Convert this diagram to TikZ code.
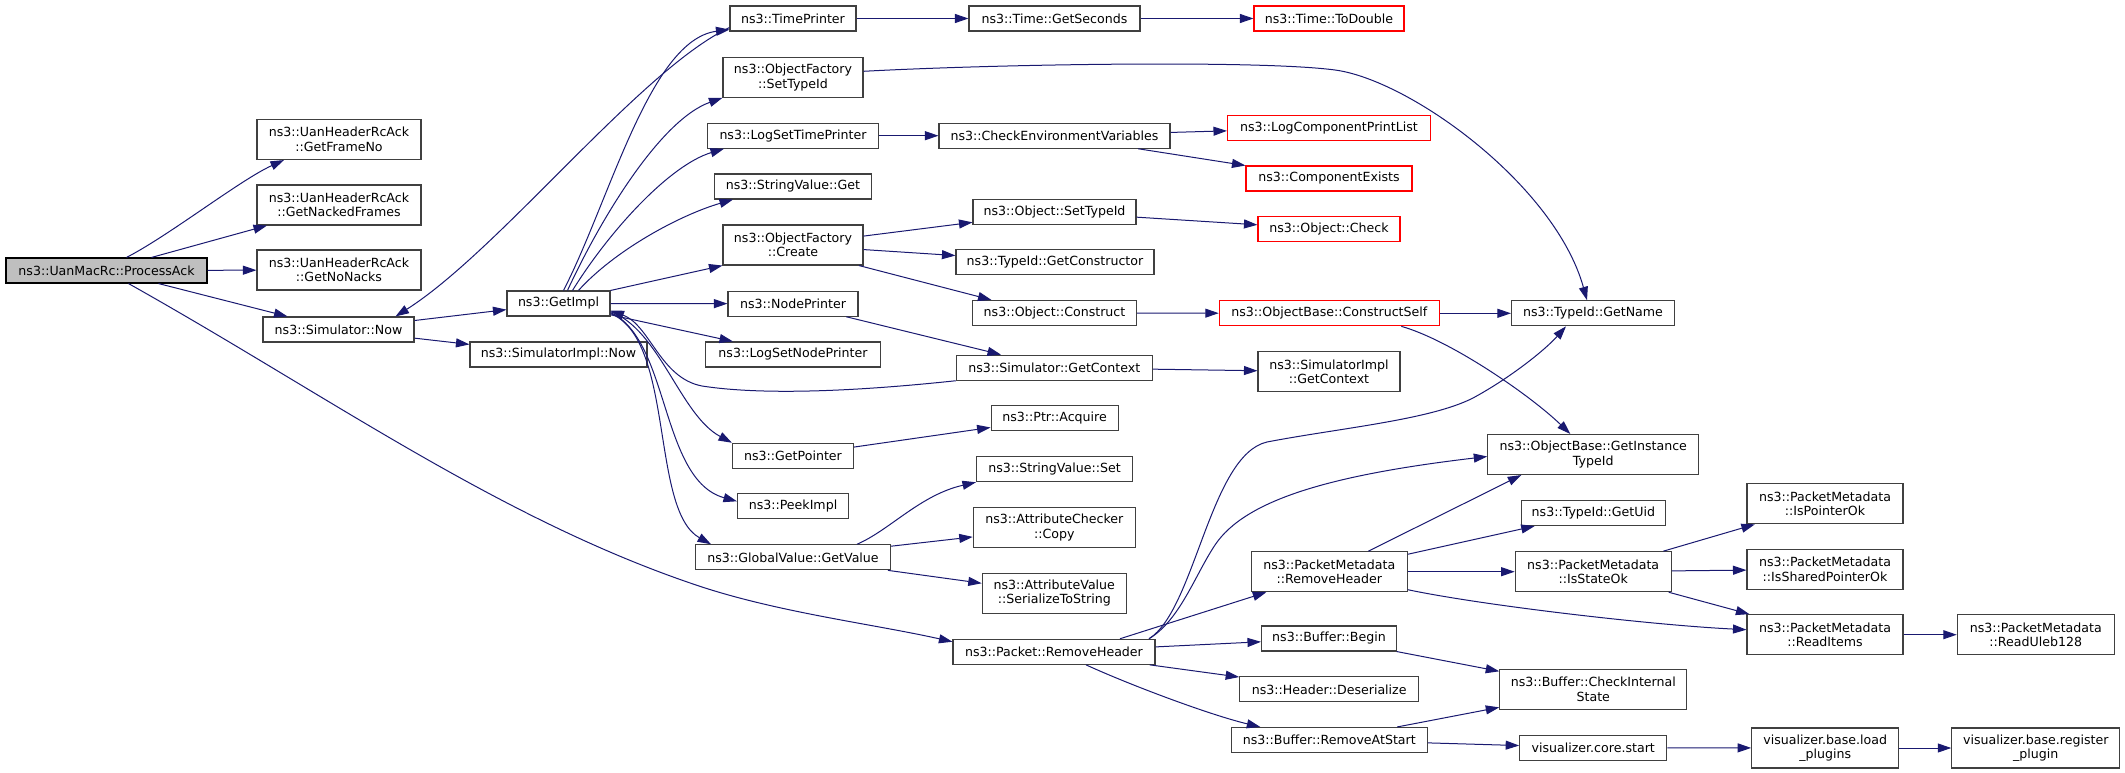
\documentclass[tikz,border=0pt]{standalone}
\usepackage{fontspec}
\setmainfont[Ligatures=NoCommon]{DejaVu Sans}
\usetikzlibrary{arrows.meta}
\definecolor{edgecol}{HTML}{191970}
\definecolor{nodeborder}{HTML}{404040}
\definecolor{redborder}{HTML}{FF0000}
\definecolor{grayfill}{HTML}{BFBFBF}
\begin{document}
\begin{tikzpicture}[x=1pt,y=-1pt,
  box/.style={draw=nodeborder, line width=1.1pt, inner sep=0pt, minimum height=25pt, align=center,
    font=\fontsize{12.6}{14.5}\selectfont},
  boxx/.style={box, minimum height=40pt},
  redb/.style={draw=redborder},
  edg/.style={draw=edgecol, line width=1pt, -{Triangle[length=13.5pt,width=9pt]}}]
\useasboundingbox (0,0) rectangle (2125,773);
% column 1
\node[box, minimum width=201, fill=grayfill, draw=black] (pa) at (106.5,270.5) {ns3::UanMacRc::ProcessAck};
% column 2
\node[boxx, minimum width=164] (gfn) at (339,139.5) {ns3::UanHeaderRcAck\\::GetFrameNo};
\node[boxx, minimum width=164] (gnf) at (339,205) {ns3::UanHeaderRcAck\\::GetNackedFrames};
\node[boxx, minimum width=164] (gnn) at (339,270) {ns3::UanHeaderRcAck\\::GetNoNacks};
\node[box, minimum width=151] (snow) at (338.5,329.5) {ns3::Simulator::Now};
% column 3
\node[box, minimum width=103] (gimpl) at (558.5,303.5) {ns3::GetImpl};
\node[box, minimum width=177] (simplnow) at (558.5,354.5) {ns3::SimulatorImpl::Now};
% column 4
\node[box, minimum width=126] (tp) at (793,18.5) {ns3::TimePrinter};
\node[boxx, minimum width=140] (ofsti) at (793,77.3) {ns3::ObjectFactory\\::SetTypeId};
\node[box, minimum width=171] (lstp) at (793,135.7) {ns3::LogSetTimePrinter};
\node[box, minimum width=157] (svget) at (793,186.5) {ns3::StringValue::Get};
\node[boxx, minimum width=140] (ofc) at (793,245) {ns3::ObjectFactory\\::Create};
\node[box, minimum width=130] (np) at (793,303.7) {ns3::NodePrinter};
\node[box, minimum width=175] (lsnp) at (793,354.5) {ns3::LogSetNodePrinter};
\node[box, minimum width=121] (gp) at (793,455.8) {ns3::GetPointer};
\node[box, minimum width=111] (pi) at (793,506.3) {ns3::PeekImpl};
\node[box, minimum width=195] (ggv) at (793,557.3) {ns3::GlobalValue::GetValue};
% column 5
\node[box, minimum width=171] (tgs) at (1054.5,18.5) {ns3::Time::GetSeconds};
\node[box, minimum width=231] (cev) at (1054.5,135.7) {ns3::CheckEnvironmentVariables};
\node[box, minimum width=163] (ostid) at (1054.5,212) {ns3::Object::SetTypeId};
\node[box, minimum width=198] (tgc) at (1055,262) {ns3::TypeId::GetConstructor};
\node[box, minimum width=164] (oc) at (1054.5,313) {ns3::Object::Construct};
\node[box, minimum width=196] (sgc) at (1054.3,367.7) {ns3::Simulator::GetContext};
\node[box, minimum width=127] (pacq) at (1054.6,418.3) {ns3::Ptr::Acquire};
\node[box, minimum width=156] (svset) at (1054.5,469.2) {ns3::StringValue::Set};
\node[boxx, minimum width=162] (acc) at (1054.3,527.7) {ns3::AttributeChecker\\::Copy};
\node[boxx, minimum width=144] (avs) at (1054.3,593.2) {ns3::AttributeValue\\::SerializeToString};
\node[box, minimum width=202] (prh) at (1054,651.8) {ns3::Packet::RemoveHeader};
% column 6
\node[box, redb, minimum width=150] (ttd) at (1329,18.5) {ns3::Time::ToDouble};
\node[box, redb, minimum width=203] (lcpl) at (1329,128) {ns3::LogComponentPrintList};
\node[box, redb, minimum width=166] (ce) at (1329,178.5) {ns3::ComponentExists};
\node[box, redb, minimum width=142] (och) at (1329,229.3) {ns3::Object::Check};
\node[box, redb, minimum width=220] (ocs) at (1329.3,313.3) {ns3::ObjectBase::ConstructSelf};
\node[boxx, minimum width=142] (sigc) at (1329,371.8) {ns3::SimulatorImpl\\::GetContext};
\node[boxx, minimum width=156] (pmrh) at (1329.3,571.7) {ns3::PacketMetadata\\::RemoveHeader};
\node[box, minimum width=135] (bb) at (1329,638.5) {ns3::Buffer::Begin};
\node[box, minimum width=179] (hd) at (1329.2,689.3) {ns3::Header::Deserialize};
\node[box, minimum width=196] (bras) at (1329.3,740) {ns3::Buffer::RemoveAtStart};
% column 7
\node[box, minimum width=163] (tgn) at (1593,313.3) {ns3::TypeId::GetName};
\node[boxx, minimum width=211] (ogit) at (1593.3,454.5) {ns3::ObjectBase::GetInstance\\TypeId};
\node[box, minimum width=144] (tgu) at (1593.4,513) {ns3::TypeId::GetUid};
\node[boxx, minimum width=156] (iso) at (1593.2,571.7) {ns3::PacketMetadata\\::IsStateOk};
\node[boxx, minimum width=187] (cis) at (1593.3,689.3) {ns3::Buffer::CheckInternal\\State};
\node[box, minimum width=147] (vcs) at (1593.2,747.7) {visualizer.core.start};
% column 8
\node[boxx, minimum width=156] (ipo) at (1825,503.8) {ns3::PacketMetadata\\::IsPointerOk};
\node[boxx, minimum width=156] (ispo) at (1825,569.3) {ns3::PacketMetadata\\::IsSharedPointerOk};
\node[boxx, minimum width=156] (ri) at (1825,634.7) {ns3::PacketMetadata\\::ReadItems};
\node[boxx, minimum width=147] (vlp) at (1825.2,748) {visualizer.base.load\\\_plugins};
% column 9
\node[boxx, minimum width=157] (ru) at (2035.8,634.7) {ns3::PacketMetadata\\::ReadUleb128};
\node[boxx, minimum width=168] (vrp) at (2035.8,748) {visualizer.base.register\\\_plugin};

% edges
\draw[edg] ([xshift=20]pa.north) .. controls (170,235) and (240,180) .. ([xshift=-55]gfn.south);
\draw[edg] ([xshift=45]pa.north) -- ([xshift=-72]gnf.south);
\draw[edg] (pa) -- (gnn);
\draw[edg] ([xshift=52]pa.south) -- ([xshift=-51]snow.north);
\draw[edg] ([xshift=22]pa.south) .. controls (329,396) and (502,521) .. (702,587) .. controls (782,613) and (873,624) .. ([yshift=-3]prh.north west);
\draw[edg] (snow) -- (gimpl);
\draw[edg] (snow) -- (simplnow);
\draw[edg] ([yshift=4]tp.south west) .. controls (640,70) and (500,250) .. ([xshift=57]snow.north);
\draw[edg] ([xshift=5]gimpl.north) .. controls (610,200) and (650,40) .. ([yshift=2]tp.south west);
\draw[edg] ([xshift=9]gimpl.north) .. controls (600,220) and (660,120) .. (ofsti.south west);
\draw[edg] ([xshift=14]gimpl.north) .. controls (610,230) and (670,165) .. ([xshift=-69]lstp.south);
\draw[edg] ([xshift=20]gimpl.north) .. controls (615,250) and (680,215) .. ([xshift=-60]svget.south);
\draw[edg] (gimpl.north east) -- (ofc.south west);
\draw[edg] (gimpl) -- (np);
\draw[edg] (gimpl) -- (lsnp);
\draw[edg] ([yshift=-8]gimpl.east) .. controls (660,330) and (680,415) .. (gp.north west);
\draw[edg] ([yshift=-9]gimpl.east) .. controls (670,340) and (660,480) .. ([yshift=5]pi.west);
\draw[edg] ([yshift=-10]gimpl.east) .. controls (675,340) and (650,510) .. ([xshift=-82]ggv.north);
\draw[edg] (sgc.south west) .. controls (850,392) and (760,395) .. (702,386) .. controls (660,378) and (650,325) .. ([yshift=-7]gimpl.east);
\draw[edg] (np) -- (sgc);
\draw[edg] (ofc) -- (ostid);
\draw[edg] (ofc) -- (tgc);
\draw[edg] ([xshift=66]ofc.south) -- ([xshift=-63]oc.north);
\draw[edg] (ostid) -- (och);
\draw[edg] (oc) -- (ocs);
\draw[edg] (ocs) -- (tgn);
\draw[edg] ([xshift=72]ocs.south) .. controls (1450,340) and (1530,395) .. ([xshift=-23]ogit.north);
\draw[edg] (sgc) -- (sigc);
\draw[edg] (gp) -- (pacq);
\draw[edg] ([xshift=64]ggv.north) .. controls (890,530) and (920,495) .. (svset.south west);
\draw[edg] (ggv) -- (acc);
\draw[edg] (ggv) -- (avs);
\draw[edg] ([xshift=95]prh.north) .. controls (1195,610) and (1210,455) .. (1267,442) .. controls (1340,428) and (1430,420) .. (1473,398) .. controls (1510,378) and (1545,350) .. ([xshift=-27]tgn.south);
\draw[edg] ([xshift=95]prh.north) .. controls (1180,620) and (1195,575) .. (1215,545) .. controls (1245,500) and (1330,475) .. ([yshift=-2]ogit.west);
\draw[edg] ([xshift=66]prh.north) -- ([xshift=-63]pmrh.south);
\draw[edg] (prh) -- (bb);
\draw[edg] (prh) -- (hd);
\draw[edg] ([xshift=32]prh.south) .. controls (1130,685) and (1210,715) .. ([xshift=-69]bras.north);
\draw[edg] ([xshift=39]pmrh.north) -- ([xshift=-72]ogit.south);
\draw[edg] (pmrh) -- (tgu);
\draw[edg] (pmrh) -- (iso);
\draw[edg] ([yshift=-18]pmrh.east) .. controls (1480,605) and (1650,625) .. ([yshift=5]ri.west);
\draw[edg] (iso) -- (ipo);
\draw[edg] (iso) -- (ispo);
\draw[edg] (iso) -- (ri);
\draw[edg] (ri) -- (ru);
\draw[edg] (bb) -- (cis);
\draw[edg] (bras) -- (cis);
\draw[edg] (bras) -- (vcs);
\draw[edg] (vcs) -- (vlp);
\draw[edg] (vlp) -- (vrp);
\draw[edg] (tp) -- (tgs);
\draw[edg] (tgs) -- (ttd);
\draw[edg] ([yshift=6]ofsti.east) .. controls (1000,64) and (1260,60) .. (1335,70) .. controls (1410,80) and (1555,185) .. ([xshift=-6]tgn.north);
\draw[edg] (lstp) -- (cev);
\draw[edg] (cev) -- (lcpl);
\draw[edg] (cev) -- (ce);
\end{tikzpicture}
\end{document}
